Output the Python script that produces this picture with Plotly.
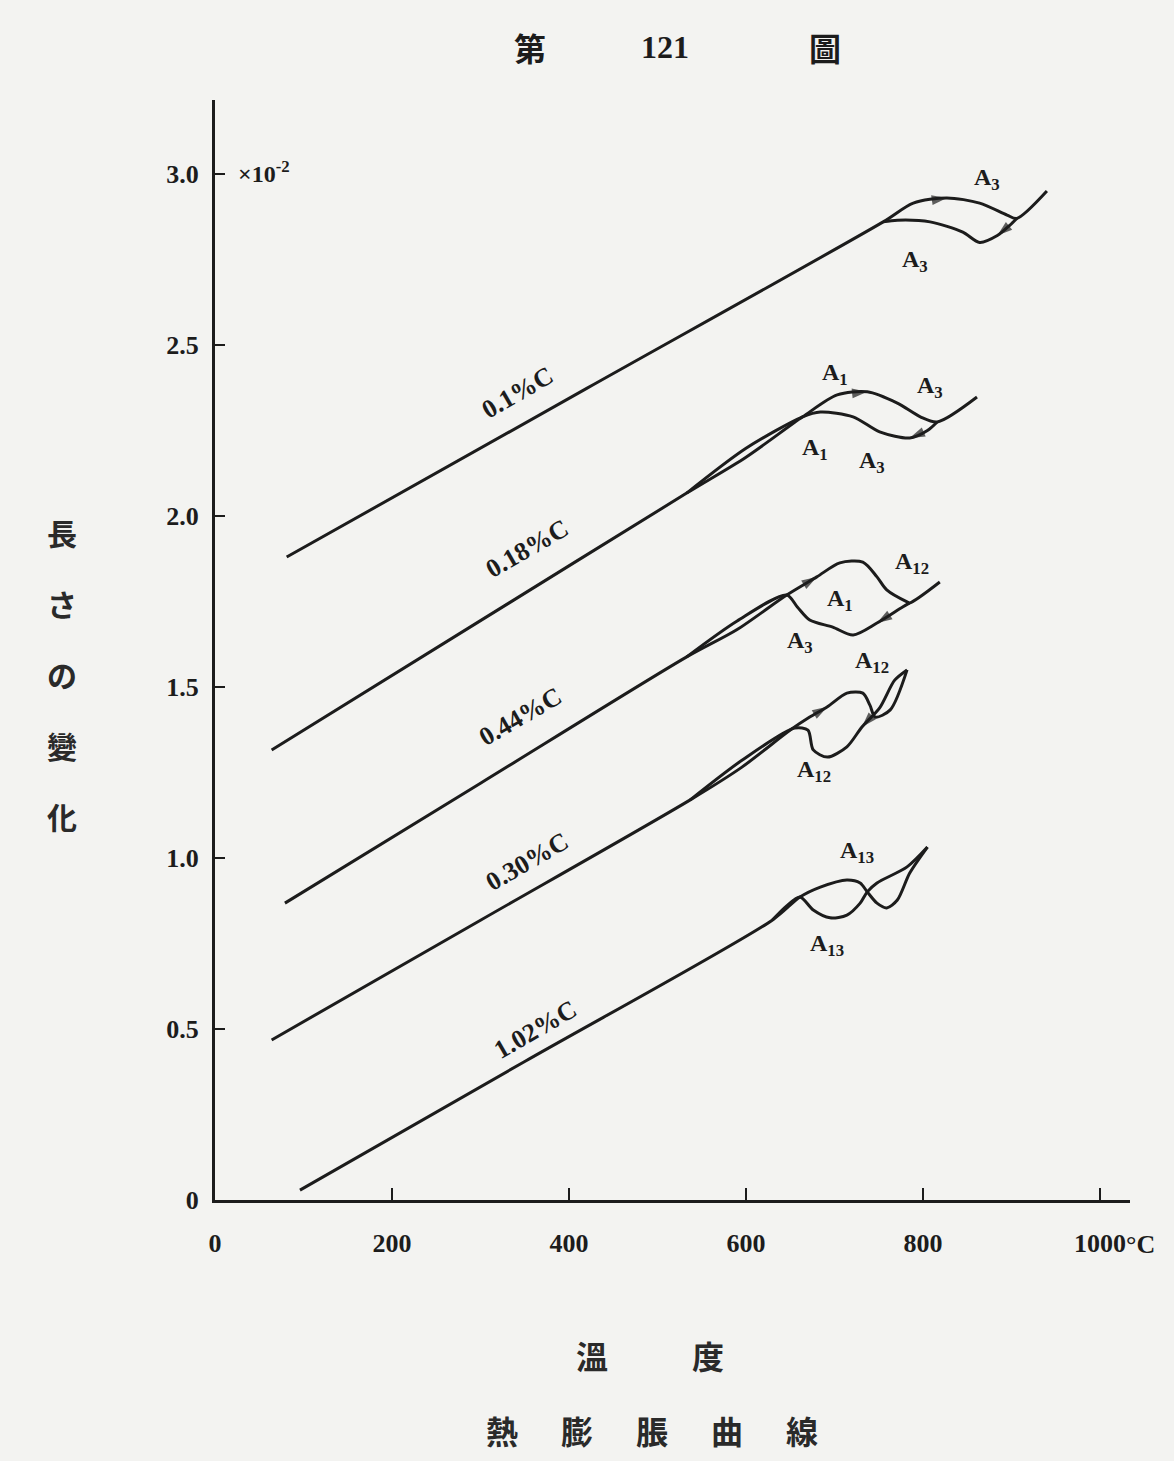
import plotly.graph_objects as go

# ---------------- data ----------------
x_ticks = [0, 200, 400, 600, 800, 1000]
x_ticklabels = ["0", "200", "400", "600", "800", "1000"]
y_ticks = [0, 0.5, 1.0, 1.5, 2.0, 2.5, 3.0]
y_ticklabels = ["0", "0.5", "1.0", "1.5", "2.0", "2.5", "3.0"]

curve_names = ["0.1%C", "0.18%C", "0.44%C", "0.30%C", "1.02%C"]

# heating branches (°C, length change x10^-2)
c01_heat_x = [81, 420, 755, 789, 827, 864, 895, 906, 940]
c01_heat_y = [1.88, 2.373, 2.86, 2.915, 2.93, 2.915, 2.88, 2.87, 2.95]
c01_cool_x = [906, 898, 884, 864, 845, 808, 771, 755]
c01_cool_y = [2.87, 2.85, 2.82, 2.80, 2.83, 2.86, 2.865, 2.86]

c018_heat_x = [64, 300, 533, 600, 664, 703, 737, 771, 797, 816, 861]
c018_heat_y = [1.316, 1.694, 2.067, 2.172, 2.29, 2.354, 2.363, 2.33, 2.29, 2.275, 2.348]
c018_cool_x = [816, 805, 785, 751, 721, 684, 664, 600, 533]
c018_cool_y = [2.275, 2.25, 2.228, 2.246, 2.29, 2.304, 2.29, 2.198, 2.067]

c044_heat_x = [79, 300, 533, 590, 646, 680, 706, 732, 748, 759, 782, 785, 819]
c044_heat_y = [0.868, 1.2185, 1.588, 1.668, 1.769, 1.822, 1.863, 1.865, 1.822, 1.784, 1.749, 1.746, 1.807]
c044_cool_x = [785, 777, 748, 721, 698, 672, 658, 646, 590, 533]
c044_cool_y = [1.746, 1.734, 1.687, 1.652, 1.675, 1.696, 1.734, 1.769, 1.693, 1.588]

c030_heat_x = [64, 300, 537, 595, 650, 672, 692, 714, 732, 740, 746, 763, 782]
c030_heat_y = [0.468, 0.818, 1.17, 1.265, 1.374, 1.412, 1.442, 1.482, 1.482, 1.447, 1.412, 1.433, 1.55]
c030_cool_x = [782, 768, 751, 731, 714, 692, 676, 670, 655, 595, 537]
c030_cool_y = [1.55, 1.52, 1.439, 1.383, 1.325, 1.295, 1.316, 1.374, 1.38, 1.285, 1.17]

c102_heat_x = [96, 350, 630, 661, 684, 714, 729, 737, 748, 759, 771, 785, 805]
c102_heat_y = [0.029, 0.405, 0.819, 0.886, 0.915, 0.936, 0.927, 0.901, 0.868, 0.854, 0.877, 0.956, 1.032]
c102_cool_x = [805, 782, 748, 737, 729, 714, 695, 676, 661, 646, 630]
c102_cool_y = [1.032, 0.974, 0.927, 0.901, 0.868, 0.833, 0.825, 0.848, 0.886, 0.86, 0.819]

heat_x = [c01_heat_x, c018_heat_x, c044_heat_x, c030_heat_x, c102_heat_x]
heat_y = [c01_heat_y, c018_heat_y, c044_heat_y, c030_heat_y, c102_heat_y]
cool_x = [c01_cool_x, c018_cool_x, c044_cool_x, c030_cool_x, c102_cool_x]
cool_y = [c01_cool_y, c018_cool_y, c044_cool_y, c030_cool_y, c102_cool_y]

# arrow positions: index in heating / cooling branch (None = no arrow)
heat_arrow_idx = [4, 6, 5, 6, None]
cool_arrow_idx = [2, 2, 2, 3, None]

# ---------------- figure ----------------
INK = "#1c1c1c"
BG = "#f3f3f1"
SERIF = "Liberation Serif"
CJK = "Noto Sans CJK JP"

fig = go.Figure()

for i in range(len(curve_names)):
    for bx, by in ((heat_x[i], heat_y[i]), (cool_x[i], cool_y[i])):
        fig.add_trace(go.Scatter(
            x=bx, y=by, mode="lines",
            line=dict(color=INK, width=3, shape="spline", smoothing=0.8),
            showlegend=False, hoverinfo="skip", cliponaxis=False))
    for idx, bx, by in ((heat_arrow_idx[i], heat_x[i], heat_y[i]),
                        (cool_arrow_idx[i], cool_x[i], cool_y[i])):
        if idx is None:
            continue
        fig.add_trace(go.Scatter(
            x=[bx[idx - 1], bx[idx]], y=[by[idx - 1], by[idx]], mode="markers",
            marker=dict(symbol="arrow", angleref="previous", size=[0, 16],
                        color=INK, line=dict(width=0)),
            showlegend=False, hoverinfo="skip", cliponaxis=False))

# plot-area geometry in pixels (for placing text outside the axes)
L, R, T, B = 215, 1130, 100, 1200
W, H = 1174, 1461


def px(xp, yp):
    return (xp - L) / (R - L), (B - yp) / (B - T)


def paper_text(text, xx, yy, family, size, color=INK, xanchor="center"):
    xp_, yp_ = px(xx, yy)
    return dict(x=xp_, y=yp_, xref="paper", yref="paper", xanchor=xanchor, yanchor="middle",
                text=text, showarrow=False, font=dict(family=family, size=size, color=color))


ann = []

# curve labels along the lines
label_pos = [(342, 2.36), (353, 1.905), (345, 1.415), (353, 0.99), (362, 0.50)]
for name, (lx, ly) in zip(curve_names, label_pos):
    ann.append(dict(x=lx, y=ly, xref="x", yref="y", text="<b>" + name + "</b>", showarrow=False,
                    xanchor="center", yanchor="middle",
                    textangle=-30, font=dict(family=SERIF, size=26, color=INK)))

# transformation-point labels
a_labels = [
    ("A<sub>3</sub>", 872, 2.985), ("A<sub>3</sub>", 791, 2.745),
    ("A<sub>1</sub>", 701, 2.415), ("A<sub>3</sub>", 808, 2.376),
    ("A<sub>1</sub>", 678, 2.195), ("A<sub>3</sub>", 742, 2.157),
    ("A<sub>12</sub>", 788, 1.862), ("A<sub>1</sub>", 706, 1.755),
    ("A<sub>3</sub>", 661, 1.632), ("A<sub>12</sub>", 742, 1.573),
    ("A<sub>12</sub>", 677, 1.255),
    ("A<sub>13</sub>", 725, 1.018), ("A<sub>13</sub>", 691, 0.746),
]
for t, ax_, ay_ in a_labels:
    ann.append(dict(x=ax_, y=ay_, xref="x", yref="y", text="<b>" + t + "</b>", showarrow=False,
                    xanchor="center", yanchor="middle",
                    font=dict(family=SERIF, size=24, color=INK)))

# multiplier near 3.0
ann.append(paper_text("<b>×10<sup>-2</sup></b>", 236, 172, SERIF, 24, xanchor="left"))
# °C unit after 1000
ann.append(paper_text("<b>°C</b>", 1124, 1244, SERIF, 26, xanchor="left"))

# title
ann.append(paper_text("<b>第</b>", 530, 47, CJK, 32))
ann.append(paper_text("<b>121</b>", 665, 47, SERIF, 32))
ann.append(paper_text("<b>圖</b>", 825, 47, CJK, 32))

# y-axis title (vertical)
for k, ch in enumerate("長さの變化"):
    ann.append(paper_text("<b>" + ch + "</b>", 62, 532 + k * 71, CJK, 30, color="#2a2a2a"))

# x-axis title and caption
for ch, xx in (("溫", 592), ("度", 708)):
    ann.append(paper_text("<b>" + ch + "</b>", xx, 1355, CJK, 32, color="#2a2a2a"))
for k, ch in enumerate("熱膨脹曲線"):
    ann.append(paper_text("<b>" + ch + "</b>", 502 + k * 75, 1430, CJK, 32, color="#2a2a2a"))

fig.update_layout(
    width=W, height=H,
    margin=dict(l=L, r=W - R, t=T, b=H - B),
    paper_bgcolor=BG, plot_bgcolor=BG,
    showlegend=False,
    annotations=ann,
    xaxis=dict(range=[0, (R - L) / 0.885], tickmode="array", tickvals=x_ticks,
               ticktext=["<b>" + t + "</b>" for t in x_ticklabels],
               showgrid=False, zeroline=False, showline=True, linecolor=INK, linewidth=3,
               ticks="inside", ticklen=12, tickwidth=2, tickcolor=INK,
               ticklabelstandoff=18,
               tickfont=dict(family=SERIF, size=26, color=INK)),
    yaxis=dict(range=[0, (B - T) / 342], tickmode="array", tickvals=y_ticks,
               ticktext=["<b>" + t + "</b>" for t in y_ticklabels],
               showgrid=False, zeroline=False, showline=True, linecolor=INK, linewidth=3,
               ticks="inside", ticklen=10, tickwidth=2, tickcolor=INK,
               ticklabelstandoff=8,
               tickfont=dict(family=SERIF, size=26, color=INK)),
)

fig.write_html("out.html")
